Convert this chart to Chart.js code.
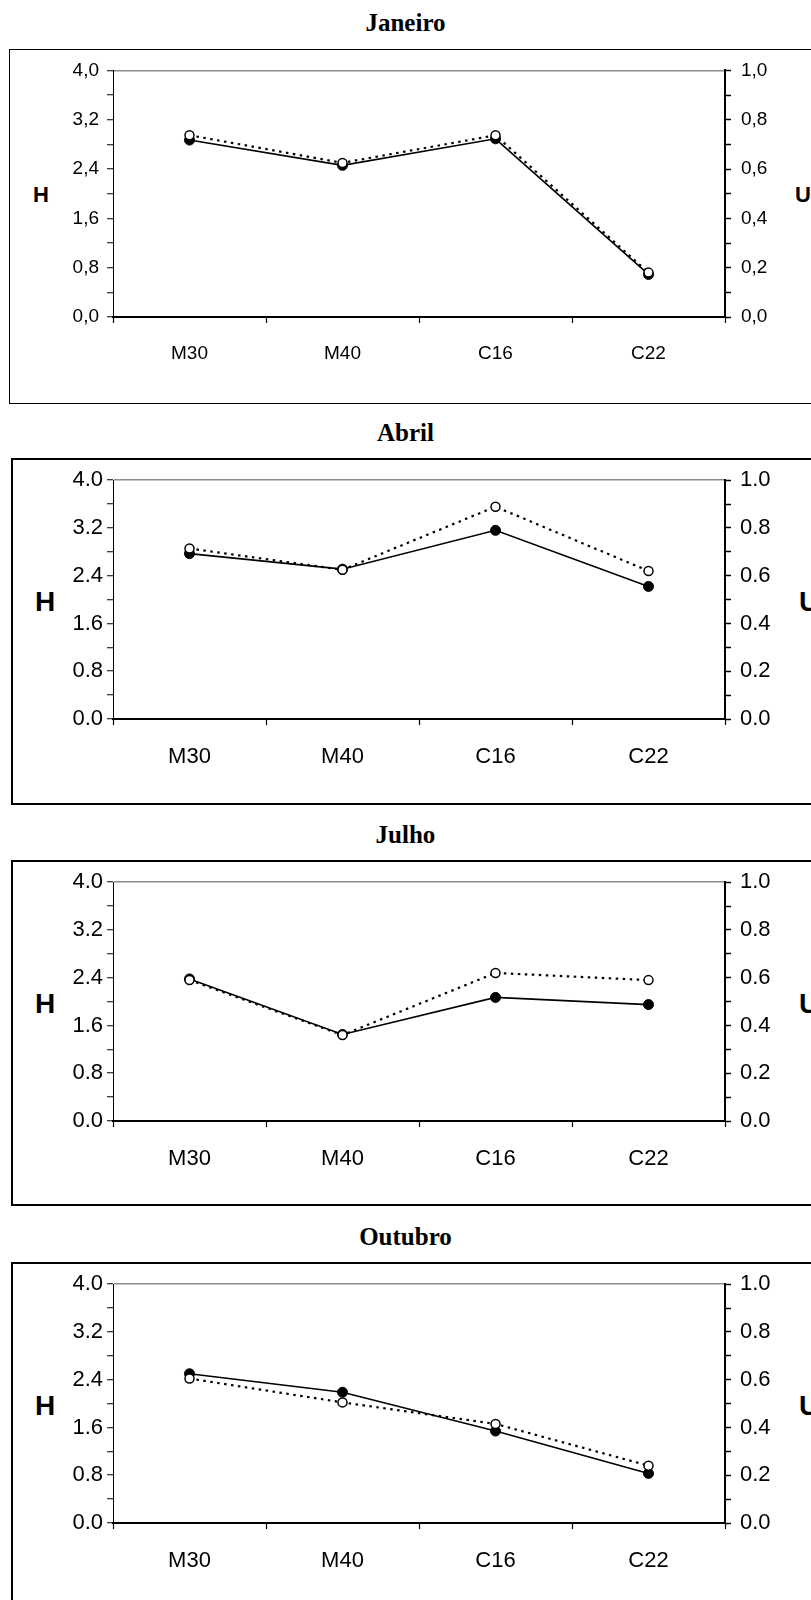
<!DOCTYPE html>
<html lang="pt">
<head>
    <meta charset="UTF-8">
    <title>H e U por mês</title>
    <script src="https://cdn.jsdelivr.net/npm/chart.js"></script>
    <style>
        body {
            margin: 0;
            background: #fff;
            overflow: hidden;
        }
        .page {
            position: relative;
            width: 811px;
            height: 1600px;
            overflow: hidden;
        }
        .title {
            position: absolute;
            left: 0;
            width: 811px;
            text-align: center;
            font-family: 'Times New Roman', 'Liberation Serif', serif;
            font-weight: bold;
            font-size: 25px;
            line-height: 28px;
        }
        .box {
            position: absolute;
            border-style: solid;
            border-color: #000;
            box-sizing: border-box;
        }
        .axis-name {
            position: absolute;
            font-family: Arial, 'Liberation Sans', sans-serif;
            font-weight: bold;
            transform: translateY(-50%);
            line-height: 1;
        }
        canvas {
            position: absolute;
            left: 0;
        }
    </style>
</head>
<body>
<div class="page" id="page"></div>

<script>
    // categories and values
    const categories = ['M30', 'M40', 'C16', 'C22'];
    const months = ['Janeiro', 'Abril', 'Julho', 'Outubro'];

    // H (left axis, filled circles, solid line)
    const hJaneiro = [2.87, 2.46, 2.89, 0.69];
    const hAbril = [2.77, 2.51, 3.16, 2.22];
    const hJulho = [2.38, 1.45, 2.07, 1.95];
    const hOutubro = [2.50, 2.19, 1.54, 0.83];

    // U (right axis, open circles, dotted line)
    const uJaneiro = [0.737, 0.625, 0.737, 0.18];
    const uAbril = [0.714, 0.625, 0.889, 0.62];
    const uJulho = [0.59, 0.36, 0.62, 0.59];
    const uOutubro = [0.605, 0.505, 0.415, 0.24];

    const hSeries = [hJaneiro, hAbril, hJulho, hOutubro];
    const uSeries = [uJaneiro, uAbril, uJulho, uOutubro];
    const decimalMarks = [',', '.', '.', '.'];

    // page layout of each panel (pixels)
    const panels = [
        { titleY: 23, boxTop: 49, boxBottom: 404, boxLeft: 9, border: 1.5, plotTop: 67, plotBottom: 317, font: 19, nameFont: 22, padL: 8, padR: 10 },
        { titleY: 433, boxTop: 458, boxBottom: 805, boxLeft: 11, border: 2.5, plotTop: 479, plotBottom: 719, font: 22, nameFont: 28, padL: 4, padR: 9 },
        { titleY: 835, boxTop: 860, boxBottom: 1206, boxLeft: 11, border: 2.5, plotTop: 881, plotBottom: 1121, font: 22, nameFont: 28, padL: 4, padR: 9 },
        { titleY: 1237, boxTop: 1262, boxBottom: 1610, boxLeft: 11, border: 2.5, plotTop: 1283, plotBottom: 1523, font: 22, nameFont: 28, padL: 4, padR: 9 }
    ];
    const plotLeft = 113;
    const plotRight = 725;
    const pageWidth = 811;
    const fontFamily = "Arial, 'Liberation Sans', sans-serif";

    const page = document.getElementById('page');

    function addDiv(cls, text, style) {
        const d = document.createElement('div');
        d.className = cls;
        if (text) d.textContent = text;
        Object.assign(d.style, style);
        page.appendChild(d);
        return d;
    }

    panels.forEach((p, i) => {
        addDiv('title', months[i], { top: (p.titleY - 14) + 'px' });
        addDiv('box', '', {
            left: p.boxLeft + 'px',
            top: p.boxTop + 'px',
            width: (pageWidth - p.boxLeft + 20) + 'px',
            height: (p.boxBottom - p.boxTop) + 'px',
            borderWidth: p.border + 'px'
        });

        const mid = (p.plotTop + p.plotBottom) / 2 + 3;
        addDiv('axis-name', 'H', { left: (i === 0 ? 33 : 35) + 'px', top: mid + 'px', fontSize: p.nameFont + 'px' });
        addDiv('axis-name', 'U', { left: (i === 0 ? 795 : 799) + 'px', top: mid + 'px', fontSize: p.nameFont + 'px' });

        const h = p.boxBottom - p.boxTop;
        const canvas = document.createElement('canvas');
        canvas.width = pageWidth;
        canvas.height = h;
        canvas.style.top = p.boxTop + 'px';
        canvas.style.width = pageWidth + 'px';
        canvas.style.height = h + 'px';
        page.appendChild(canvas);

        const mark = decimalMarks[i];
        const fmt = v => v.toFixed(1).replace('.', mark);
        const tickFont = { family: fontFamily, size: p.font };

        new Chart(canvas, {
            type: 'line',
            data: {
                labels: categories,
                datasets: [
                    {
                        label: 'U',
                        data: uSeries[i],
                        yAxisID: 'u',
                        borderColor: '#000',
                        borderWidth: 2.2,
                        borderDash: [2.5, 4.5],
                        pointRadius: 4.5,
                        pointBorderWidth: 1.5,
                        pointBackgroundColor: '#fff',
                        pointBorderColor: '#000',
                        tension: 0
                    },
                    {
                        label: 'H',
                        data: hSeries[i],
                        yAxisID: 'h',
                        borderColor: '#000',
                        borderWidth: 1.6,
                        pointRadius: 5,
                        pointBorderWidth: 1,
                        pointBackgroundColor: '#000',
                        pointBorderColor: '#000',
                        tension: 0
                    }
                ]
            },
            options: {
                responsive: false,
                animation: false,
                devicePixelRatio: 1,
                layout: { padding: { top: p.plotTop - p.boxTop, left: 0, right: 0, bottom: 0 } },
                plugins: {
                    legend: { display: false },
                    tooltip: { enabled: false }
                },
                scales: {
                    x: {
                        offset: true,
                        grid: { offset: true, drawOnChartArea: false, tickLength: 6, tickColor: '#000', tickWidth: 1.2 },
                        border: { color: '#000', width: 2 },
                        ticks: { color: '#000', font: tickFont, padding: 19, maxRotation: 0 },
                        afterFit: s => { s.height = p.boxBottom - p.plotBottom; }
                    },
                    h: {
                        position: 'left',
                        min: 0,
                        max: 4,
                        grid: {
                            color: ctx => (ctx.tick && ctx.tick.value === 4) ? '#8c8c8c' : 'rgba(0,0,0,0)',
                            lineWidth: 1.5,
                            tickColor: '#000',
                            tickWidth: 1,
                            tickLength: 6
                        },
                        border: { color: '#000', width: 1 },
                        ticks: {
                            stepSize: 0.4,
                            autoSkip: false,
                            color: '#000',
                            font: tickFont,
                            padding: p.padL,
                            callback: (v, idx) => idx % 2 === 0 ? fmt(v) : ''
                        },
                        afterFit: s => { s.width = plotLeft; }
                    },
                    u: {
                        position: 'right',
                        min: 0,
                        max: 1,
                        grid: { drawOnChartArea: false, tickColor: '#000', tickWidth: 1.5, tickLength: 6 },
                        border: { color: '#000', width: 2 },
                        ticks: {
                            stepSize: 0.1,
                            autoSkip: false,
                            color: '#000',
                            font: tickFont,
                            padding: p.padR,
                            callback: (v, idx) => idx % 2 === 0 ? fmt(v) : ''
                        },
                        afterFit: s => { s.width = pageWidth - plotRight; }
                    }
                }
            }
        });
    });
</script>
</body>
</html>
